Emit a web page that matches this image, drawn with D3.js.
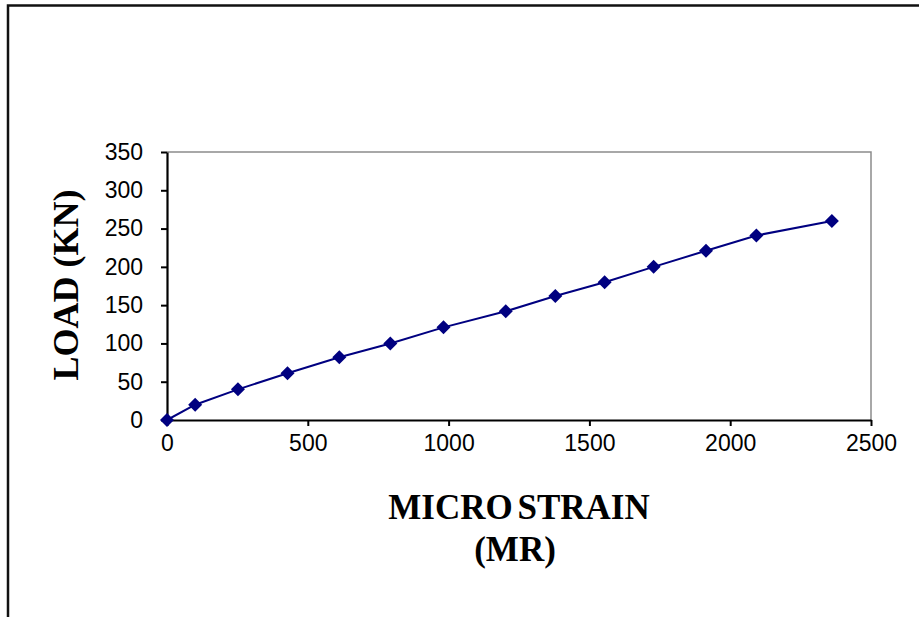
<!DOCTYPE html>
<html>
<head>
<meta charset="utf-8">
<script src="https://cdn.jsdelivr.net/npm/d3@7"></script>
<style>
  html, body { margin: 0; padding: 0; background: #fff; }
  svg { display: block; }
</style>
</head>
<body>
<svg id="chart" width="919" height="617"></svg>
<script>
// Load vs. micro strain measurements
const strain = [0, 100, 252, 428, 612, 793, 982, 1203, 1379, 1554, 1728, 1914, 2093, 2361];
const load   = [0, 20, 40, 61, 82, 100, 121, 142, 162, 180, 200, 221, 241, 260];
const xTicks = [0, 500, 1000, 1500, 2000, 2500];
const yTicks = [0, 50, 100, 150, 200, 250, 300, 350];
const xTitle = ["MICRO STRAIN", "(MR)"];
const yTitle = "LOAD (KN)";

const svg = d3.select("#chart");
const plot = { left: 167, right: 871, top: 152, bottom: 420 };

// Outer chart frame (runs past the window on the right and bottom)
svg.append("rect")
  .attr("x", 8).attr("y", 5.5)
  .attr("width", 1000).attr("height", 700)
  .attr("fill", "none").attr("stroke", "#111").attr("stroke-width", 2.5);

const x = d3.scaleLinear().domain([0, 2500]).range([plot.left, plot.right]);
const y = d3.scaleLinear().domain([0, 350]).range([plot.bottom, plot.top]);

// Plot area border (top and right in gray)
svg.append("path")
  .attr("d", `M${plot.left},${plot.top}H${plot.right}V${plot.bottom}`)
  .attr("fill", "none").attr("stroke", "#8c8c8c").attr("stroke-width", 1.5);

const tickFont = "'Liberation Sans', Arial, sans-serif";
const fmt = d3.format("d");

// Y axis
const yAxis = svg.append("g")
  .attr("transform", `translate(${plot.left},0)`)
  .call(d3.axisLeft(y).tickValues(yTicks).tickFormat(fmt)
    .tickSize(6).tickPadding(18).tickSizeOuter(0));
yAxis.select(".domain").attr("stroke", "#000").attr("stroke-width", 2.2);
yAxis.selectAll(".tick line").attr("stroke", "#000").attr("stroke-width", 2);
yAxis.selectAll(".tick text")
  .attr("font-family", tickFont).attr("font-size", 23).attr("fill", "#000");

// X axis
const xAxis = svg.append("g")
  .attr("transform", `translate(0,${plot.bottom})`)
  .call(d3.axisBottom(x).tickValues(xTicks).tickFormat(fmt)
    .tickSize(6).tickPadding(9).tickSizeOuter(0));
xAxis.select(".domain").attr("stroke", "#000").attr("stroke-width", 2.2);
xAxis.selectAll(".tick line").attr("stroke", "#000").attr("stroke-width", 2);
xAxis.selectAll(".tick text")
  .attr("font-family", tickFont).attr("font-size", 23).attr("fill", "#000");

// Data line and diamond markers
const pts = strain.map((s, i) => [s, load[i]]);
svg.append("path")
  .datum(pts)
  .attr("d", d3.line().x(d => x(d[0])).y(d => y(d[1])))
  .attr("fill", "none").attr("stroke", "#000080").attr("stroke-width", 2);

const diamond = "M0,-7L7,0L0,7L-7,0Z";
svg.append("g").selectAll("path")
  .data(pts).join("path")
  .attr("d", diamond)
  .attr("transform", d => `translate(${x(d[0])},${y(d[1])})`)
  .attr("fill", "#000080");

// Axis titles
const titleFont = "'Liberation Serif', 'Times New Roman', serif";
svg.append("text")
  .attr("x", 519).attr("y", 519)
  .attr("text-anchor", "middle")
  .attr("font-family", titleFont).attr("font-weight", "bold")
  .attr("font-size", 35).attr("fill", "#000")
  .style("word-spacing", "-4px")
  .text(xTitle[0]);
svg.append("text")
  .attr("x", 515).attr("y", 561)
  .attr("text-anchor", "middle")
  .attr("font-family", titleFont).attr("font-weight", "bold")
  .attr("font-size", 35).attr("fill", "#000")
  .text(xTitle[1]);
svg.append("text")
  .attr("transform", "translate(78,285) rotate(-90)")
  .attr("text-anchor", "middle")
  .attr("font-family", titleFont).attr("font-weight", "bold")
  .attr("font-size", 36).attr("fill", "#000")
  .text(yTitle);
</script>
</body>
</html>
